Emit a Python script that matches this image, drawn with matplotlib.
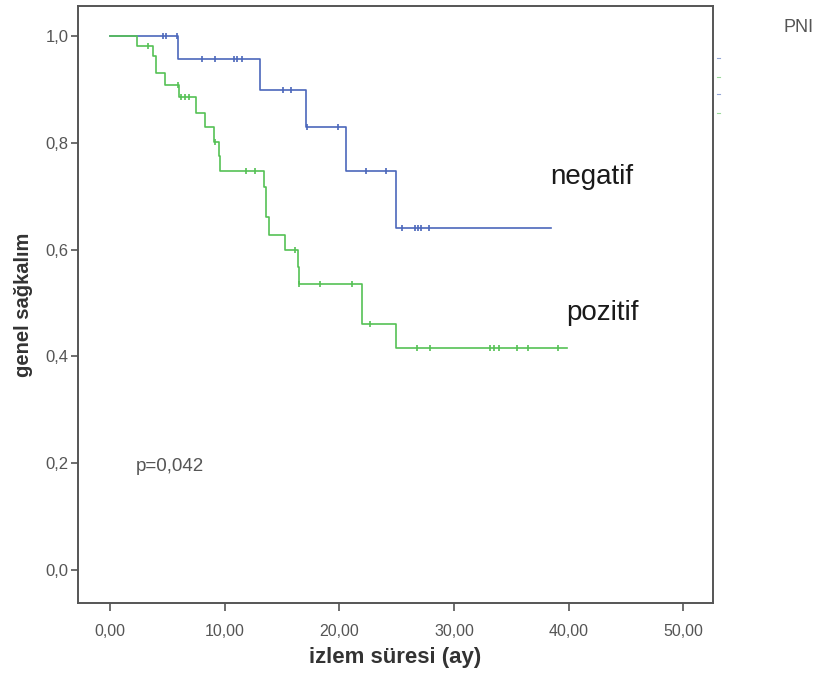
import numpy as np
import matplotlib
matplotlib.use("Agg")
import matplotlib.pyplot as plt
from matplotlib.lines import Line2D

plt.rcParams['font.family'] = ['Liberation Sans', 'DejaVu Sans']

# negatif group: step times and survival after each step
neg_times = [0.0, 5.95, 13.1, 17.05, 20.6, 24.9]
neg_surv = [1.0, 0.957, 0.898, 0.830, 0.748, 0.640]
neg_end = 38.5
neg_censor = [4.6, 4.85, 5.8, 8.05, 9.15, 10.8, 11.1, 11.5, 15.1, 15.75,
              17.2, 19.9, 22.3, 24.1, 25.45, 26.6, 26.9, 27.15, 27.8]

# pozitif group
poz_times = [0.0, 2.35, 3.72, 4.0, 4.8, 6.0, 7.5, 8.3, 9.1, 9.5, 9.6,
             13.45, 13.6, 13.85, 15.3, 16.4, 16.45, 21.95, 24.9]
poz_surv = [1.0, 0.981, 0.962, 0.931, 0.909, 0.886, 0.856, 0.830, 0.802, 0.775, 0.748,
            0.717, 0.660, 0.627, 0.599, 0.568, 0.536, 0.461, 0.415]
poz_end = 39.85
poz_censor = [3.35, 5.9, 6.2, 6.5, 6.9, 9.15, 11.9, 12.65, 16.15, 16.5, 18.3, 21.1,
              22.7, 26.8, 27.9, 33.1, 33.45, 33.9, 35.5, 36.5, 39.1]

xticks = [0, 10, 20, 30, 40, 50]
yticks = [0.0, 0.2, 0.4, 0.6, 0.8, 1.0]

blue = '#4c67bb'
green = '#55c155'


def km_curve(ax, times, surv, end, censor, color):
    x = list(times) + [end]
    y = list(surv) + [surv[-1]]
    ax.step(x, y, where='post', color=color, lw=1.2)
    idx = np.searchsorted(times, censor, side='right') - 1
    cy = np.array(surv)[idx]
    ax.plot(censor, cy, ls='none', marker='|', ms=5, mew=1.2, color=color)


fig = plt.figure(figsize=(8.21, 6.73), dpi=100)
ax = fig.add_axes([0.095, 0.104, 0.7735, 0.887])

km_curve(ax, neg_times, neg_surv, neg_end, neg_censor, blue)
km_curve(ax, poz_times, poz_surv, poz_end, poz_censor, green)

ax.set_xlim(-2.8, 52.6)
ax.set_ylim(-0.062, 1.056)
ax.set_xticks(xticks)
ax.set_xticklabels([('%.2f' % v).replace('.', ',') for v in xticks])
ax.set_yticks(yticks)
ax.set_yticklabels([('%.1f' % v).replace('.', ',') for v in yticks])

for s in ax.spines.values():
    s.set_color('#555555')
    s.set_linewidth(1.4)
ax.tick_params(axis='x', direction='out', length=6, width=1.2, color='#555555',
               labelcolor='#555555', labelsize=11.5, pad=9)
ax.tick_params(axis='y', direction='out', length=5, width=1.2, color='#555555',
               labelcolor='#555555', labelsize=12, pad=2)

ax.set_xlabel('izlem süresi (ay)', fontsize=16, fontweight='bold', color='#333333', labelpad=6)
ax.set_ylabel('genel sağkalım', fontsize=14.5, fontweight='bold', color='#333333', labelpad=9)

ax.text(38.4, 0.736, 'negatif', fontsize=20, color='#1a1a1a', va='center')
ax.text(39.8, 0.481, 'pozitif', fontsize=20, color='#1a1a1a', va='center')
ax.text(2.2, 0.194, 'p=0,042', fontsize=13.5, color='#555555', va='center')

fig.text(783 / 821, 1 - 27 / 673, 'PNI', fontsize=13, color='#555555', va='center')

# faint legend remnants beside the frame
for yy, c in [(58, blue), (77, green), (94, blue), (113, green)]:
    yf = 1 - yy / 673
    fig.add_artist(Line2D([717 / 821, 720 / 821], [yf, yf], color=c, lw=0.8, alpha=0.6))

fig.savefig('out.png', dpi=100)
